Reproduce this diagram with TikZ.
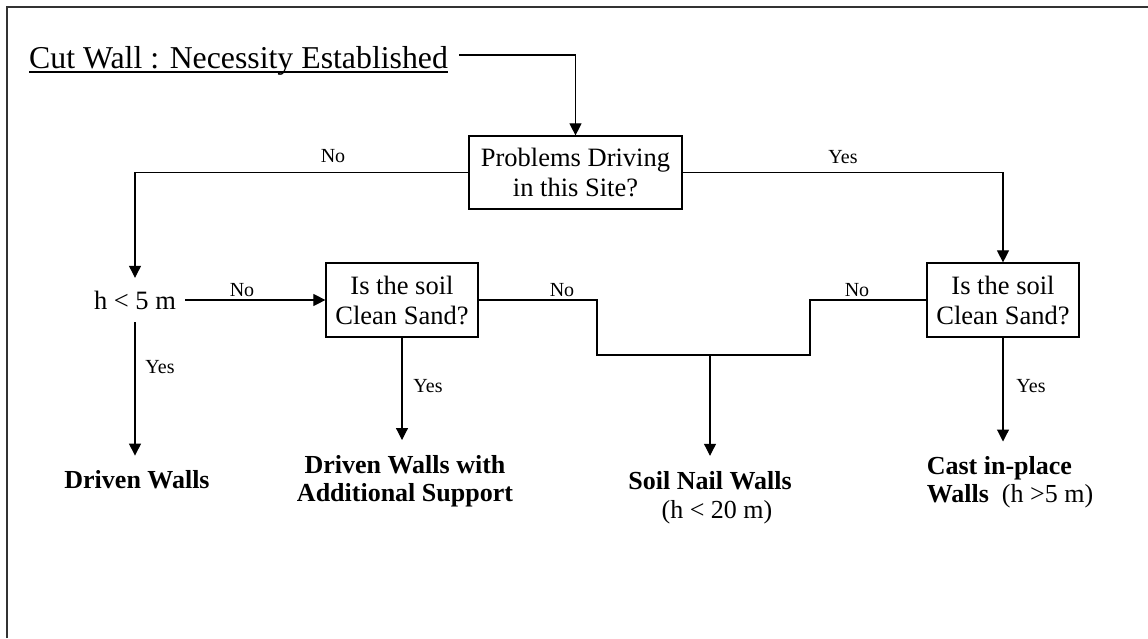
\documentclass[tikz,border=0pt]{standalone}
\usepackage{fontspec}
\setmainfont{Liberation Serif}
\usetikzlibrary{arrows.meta}
\begin{document}
\begin{tikzpicture}[x=1pt,y=-1pt,
  conn/.style={line width=1.1pt},
  arr/.style={conn,-{Triangle[length=12pt,width=12pt]}},
  qbox/.style={draw,line width=1.2pt,inner sep=0pt,align=center,font=\fontsize{26.5}{30}\selectfont},
  res/.style={inner xsep=0pt,inner ysep=15pt,align=center,font=\fontsize{26}{28}\selectfont\bfseries},
  lbl/.style={inner sep=0pt,anchor=base,font=\fontsize{20}{22}\selectfont},
  plain/.style={inner sep=0pt,font=\fontsize{26}{28}\selectfont}]
\fill[white] (0,0) rectangle (1148,638);
\useasboundingbox (0,0) rectangle (1148,638);
\draw[line width=2pt,black!80] (7,638) -- (7,7) -- (1148,7);
% nodes
\node[inner sep=0pt,anchor=base west,font=\fontsize{31.8}{34}\selectfont] (title) at (29,68) {Cut Wall : Necessity Established};
\draw[line width=1.2pt] ([yshift=-4pt]title.base west) -- ([yshift=-4pt]title.base east);
\coordinate (t0) at (459,55);
\node[qbox,minimum width=213pt,minimum height=73pt] (prob) at (575.5,172.5) {Problems Driving\\in this Site?};
\node[plain,inner xsep=9pt,minimum height=44pt,font=\fontsize{26.5}{30}\selectfont] (h) at (135,300) {h < 5 m};
\node[qbox,minimum width=152pt,minimum height=74pt] (q2) at (402,300) {Is the soil\\Clean Sand?};
\node[qbox,minimum width=152pt,minimum height=74pt] (q3) at (1003,300) {Is the soil\\Clean Sand?};
\node[res] (dw) at (137,480) {Driven Walls};
\node[res] (dwas) at (405,481) {Driven Walls with\\Additional Support};
\node[res] (soil) at (710,480.2) {Soil Nail Walls};
\node[plain,anchor=base] (soilh) at (717,518) {(h < 20 m)};
\node[res,align=left] (cast) at (1010,482.5) {Cast in-place\\Walls\hspace{13pt}{\mdseries (h >5 m)}};
\coordinate (jl) at (597,355);
\coordinate (jr) at (810,355);
% connectors
\draw[arr] (t0) -| (prob.north);
\draw[arr] (prob.west) -| (h.north);
\draw[arr] (prob.east) -| (q3.north);
\draw[arr] (h.east) -- (q2.west);
\draw[arr] (h.south) -- (h.south |- dw.north);
\draw[arr] (q2.south) -- (q2.south |- dwas.north);
\draw[conn] (q2.east) -| (jl) -- (jr) |- (q3.west);
\draw[arr] (soil.north |- jl) -- (soil.north);
\draw[arr] (q3.south) -- (q3.south |- cast.north);
% labels
\node[lbl] (l1) at (333,162) {No};
\node[lbl] (l2) at (843,163) {Yes};
\node[lbl] (l3) at (242,296) {No};
\node[lbl] (l4) at (562,296) {No};
\node[lbl] (l5) at (857,296) {No};
\node[lbl] (l6) at (160,373) {Yes};
\node[lbl] (l7) at (428,392) {Yes};
\node[lbl] (l8) at (1031,392) {Yes};
\end{tikzpicture}
\end{document}
